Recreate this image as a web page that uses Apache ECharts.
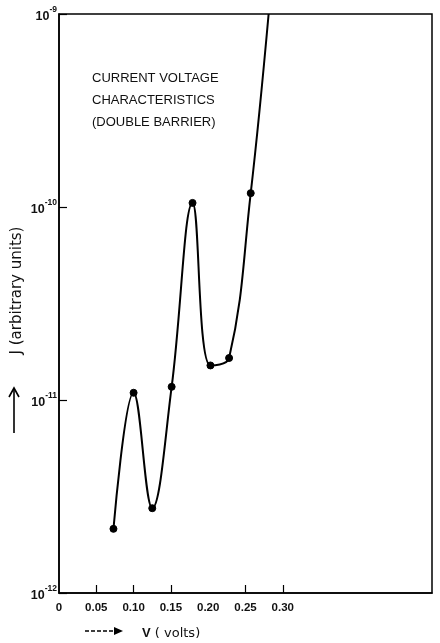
<!DOCTYPE html>
<html>
<head>
<meta charset="utf-8">
<script src="https://cdn.jsdelivr.net/npm/echarts@6/dist/echarts.min.js"></script>
<style>
  html, body { margin: 0; padding: 0; background: #fff; }
  #chart { width: 440px; height: 643px; }
</style>
</head>
<body>
<div id="chart"></div>
<script>
// measured points (V in volts, J in arbitrary units)
const voltage = [0.073, 0.100, 0.125, 0.151, 0.179, 0.203, 0.228, 0.257, 0.281]
const current = [2.15e-12, 1.09e-11, 2.75e-12, 1.17e-11, 1.05e-10, 1.51e-11, 1.65e-11, 1.18e-10, 1e-9]
// last point is where the curve leaves the frame, no marker there
const hasMarker = [true, true, true, true, true, true, true, true, false]

// tick labels
const xLabelValues = [0, 0.05, 0.10, 0.15, 0.20, 0.25, 0.30]
const xLabelTexts = ['0', '0.05', '0.10', '0.15', '0.20', '0.25', '0.30']
const xTickValues = [0.05, 0.10, 0.15, 0.25, 0.30]
const yExponents = [-12, -11, -10, -9]

const titleLines = ['CURRENT VOLTAGE', 'CHARACTERISTICS', '(DOUBLE BARRIER)']

const chart = echarts.init(document.getElementById('chart'))

let points = voltage.map((v, i) => ({
  value: [v, current[i]],
  symbolSize: hasMarker[i] ? 7 : 0
}))

let option = {
  backgroundColor: '#fff',
  animation: false,
  title: {
    text: titleLines.join('\n'),
    left: 87,
    top: 62,
    textStyle: {
      fontFamily: 'Liberation Sans',
      fontSize: 13,
      fontWeight: 'normal',
      color: '#111',
      lineHeight: 22
    }
  },
  grid: {
    left: 59,
    right: 8,
    top: 14,
    bottom: 50,
    outerBoundsMode: 'none',
    show: true,
    borderColor: '#000',
    borderWidth: 1.5
  },
  xAxis: {
    type: 'value',
    min: 0,
    max: 0.5,
    interval: 0.05,
    axisLine: { show: true, lineStyle: { color: '#000', width: 1.5 } },
    axisTick: {
      show: true,
      inside: true,
      length: 8,
      customValues: xTickValues,
      lineStyle: { color: '#000', width: 1.2 }
    },
    axisLabel: {
      customValues: xLabelValues,
      margin: 9,
      fontFamily: 'Liberation Sans',
      fontWeight: 'bold',
      fontSize: 11.5,
      color: '#111',
      formatter: function (v) {
        let i = xLabelValues.findIndex(x => Math.abs(x - v) < 1e-6)
        return i >= 0 ? xLabelTexts[i] : ''
      }
    },
    splitLine: { show: false }
  },
  yAxis: {
    type: 'log',
    logBase: 10,
    min: 1e-12,
    max: 1e-9,
    name: 'J (arbitrary units)',
    nameLocation: 'middle',
    nameRotate: 90,
    nameGap: 34,
    nameMoveOverlap: false,
    nameTextStyle: {
      fontFamily: 'DejaVu Sans',
      fontSize: 15,
      color: '#111',
      padding: [0, 0, 0, 26]
    },
    axisLine: { show: true, lineStyle: { color: '#000', width: 1.5 } },
    axisTick: { show: true, inside: true, length: 8, lineStyle: { color: '#000', width: 1.2 } },
    minorTick: { show: false },
    splitLine: { show: false },
    axisLabel: {
      margin: 2,
      formatter: function (v) {
        let e = Math.round(Math.log10(v))
        let i = yExponents.indexOf(e)
        return i >= 0 ? '{b|10}{s|' + yExponents[i] + '}' : ''
      },
      rich: {
        b: {
          fontFamily: 'Liberation Sans',
          fontWeight: 'bold',
          fontSize: 12.5,
          color: '#111',
          lineHeight: 18,
          verticalAlign: 'bottom'
        },
        s: {
          fontFamily: 'Liberation Sans',
          fontWeight: 'bold',
          fontSize: 8.5,
          color: '#111',
          lineHeight: 18,
          verticalAlign: 'top'
        }
      }
    }
  },
  graphic: [
    // upward arrow under the y axis name
    {
      type: 'line',
      shape: { x1: 14, y1: 433, x2: 14, y2: 390 },
      style: { stroke: '#000', lineWidth: 1.6 }
    },
    {
      type: 'polyline',
      shape: { points: [[9, 397], [14, 388], [19, 397]] },
      style: { stroke: '#000', lineWidth: 1.6, fill: null }
    },
    // dashed arrow + x axis name
    {
      type: 'line',
      shape: { x1: 85, y1: 631, x2: 117, y2: 631 },
      style: { stroke: '#000', lineWidth: 1.4, lineDash: [4, 2] }
    },
    {
      type: 'polygon',
      shape: { points: [[114, 627], [123, 631], [114, 635]] },
      style: { fill: '#000' }
    },
    {
      type: 'text',
      left: 142,
      top: 627,
      style: {
        text: '{v|V} ( volts)',
        rich: {
          v: { fontFamily: 'Liberation Sans', fontWeight: 'bold', fontSize: 13, fill: '#111' }
        },
        font: '13px "DejaVu Sans"',
        fill: '#111'
      }
    }
  ],
  series: [{
    type: 'line',
    data: points,
    smooth: 0.4,
    symbol: 'circle',
    showAllSymbol: true,
    clip: true,
    lineStyle: { color: '#000', width: 2 },
    itemStyle: { color: '#000', borderColor: '#000' }
  }]
}

chart.setOption(option)
</script>
</body>
</html>
